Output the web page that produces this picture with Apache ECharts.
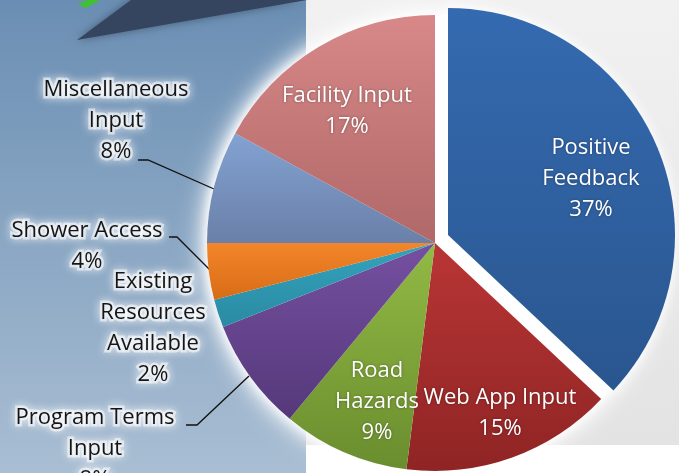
<!DOCTYPE html>
<html>
<head>
<meta charset="utf-8">
<script src="https://cdn.jsdelivr.net/npm/echarts@6/dist/echarts.min.js"></script>
<style>
  html, body { margin: 0; padding: 0; background: #fff; }
  #chart { width: 679px; height: 473px; }
</style>
</head>
<body>
<div id="chart"></div>
<script>
// slices, clockwise from 12 o'clock
const categories = ['Positive Feedback', 'Web App Input', 'Road Hazards', 'Program Terms Input',
  'Existing Resources Available', 'Shower Access', 'Miscellaneous Input', 'Facility Input']
const shares = [37, 15, 9, 8, 2, 4, 8, 17]
const exploded = 'Positive Feedback'

// how each label breaks into lines
const wrapped = {
  'Positive Feedback': 'Positive\nFeedback',
  'Web App Input': 'Web App Input',
  'Road Hazards': 'Road\nHazards',
  'Program Terms Input': 'Program Terms\nInput',
  'Existing Resources Available': 'Existing\nResources\nAvailable',
  'Shower Access': 'Shower Access',
  'Miscellaneous Input': 'Miscellaneous\nInput',
  'Facility Input': 'Facility Input'
}
const outsideLabels = ['Program Terms Input', 'Existing Resources Available', 'Shower Access', 'Miscellaneous Input']

// top / bottom gradient colours
const sliceColors = {
  'Positive Feedback': ['#346AB0', '#2A568F'],
  'Web App Input': ['#B93535', '#8F2424'],
  'Road Hazards': ['#92BA45', '#6A8D2E'],
  'Program Terms Input': ['#7550A0', '#55387A'],
  'Existing Resources Available': ['#34A3BD', '#2A8AA3'],
  'Shower Access': ['#F3862A', '#D86C16'],
  'Miscellaneous Input': ['#83A2D2', '#6A80A8'],
  'Facility Input': ['#D88888', '#B06868']
}

// label anchor positions and leader lines
const labelPos = {
  'Positive Feedback': [591, 179],
  'Web App Input': [500, 413],
  'Road Hazards': [377, 402],
  'Program Terms Input': [95, 449],
  'Existing Resources Available': [153, 328],
  'Shower Access': [87, 246],
  'Miscellaneous Input': [116, 121],
  'Facility Input': [347, 111]
}
const leaderLines = {
  'Miscellaneous Input': [[138, 160], [148, 160], [214, 189]],
  'Shower Access': [[169, 237], [177, 237], [210, 270]],
  'Program Terms Input': [[186, 425], [197, 425], [249, 376]]
}

const pieCenter = [435, 243]
const explodedCenter = [448, 235]
const pieRadius = 228

const chart = echarts.init(document.getElementById('chart'))

const grad = (c) => new echarts.graphic.LinearGradient(0, 0, 0, 1, [
  {offset: 0, color: c[0]}, {offset: 1, color: c[1]}
])

// build data for a layer; only names accepted by `visible` are drawn
const buildData = (visible) => categories.map((name, i) => {
  const show = visible(name)
  const outside = outsideLabels.includes(name)
  return {
    name,
    value: shares[i],
    itemStyle: show
      ? {color: grad(sliceColors[name])}
      : {color: 'rgba(0,0,0,0)'},
    label: {
      show,
      position: outside ? 'outside' : 'inside',
      color: outside ? '#151515' : '#fff',
      textShadowColor: outside ? '#fff' : 'rgba(0,0,0,0.35)',
      textShadowBlur: outside ? 10 : 3,
      textBorderColor: outside ? 'rgba(255,255,255,0.55)' : 'transparent',
      textBorderWidth: outside ? 5 : 0
    },
    labelLine: {show: show && !!leaderLines[name]}
  }
})

const labelLayout = (params) => {
  const name = categories[params.dataIndex]
  const p = labelPos[name]
  if (!p) return {}
  const out = {x: p[0], y: p[1], align: 'center', verticalAlign: 'middle'}
  if (leaderLines[name]) out.labelLinePoints = leaderLines[name]
  return out
}

const commonPie = {
  type: 'pie',
  radius: pieRadius,
  startAngle: 90,
  clockwise: true,
  avoidLabelOverlap: false,
  percentPrecision: 0,
  silent: true,
  label: {
    fontFamily: 'Open Sans',
    fontSize: 22,
    lineHeight: 31,
    formatter: (p) => wrapped[p.name] + '\n' + p.percent + '%'
  },
  labelLine: {lineStyle: {color: '#111', width: 1.3}},
  labelLayout
}

const glowLayer = (blur) => ({
  type: 'pie', silent: true, radius: pieRadius, center: pieCenter, z: 1,
  label: {show: false}, labelLine: {show: false},
  data: [{value: 1, itemStyle: {color: '#fff', shadowBlur: blur, shadowColor: '#fff'}}]
})

chart.setOption({
  animation: false,
  graphic: [
    {type: 'rect', z: -10, shape: {x: 0, y: 0, width: 306, height: 473},
      style: {fill: new echarts.graphic.LinearGradient(0, 0, 0, 1, [
        {offset: 0, color: '#6A8EB3'}, {offset: 1, color: '#A9BED3'}])}},
    {type: 'rect', z: -10, shape: {x: 306, y: 0, width: 373, height: 445},
      style: {fill: new echarts.graphic.LinearGradient(0, 0, 0, 1, [
        {offset: 0, color: '#F1F1F1'}, {offset: 1, color: '#E3E3E3'}])}},
    {type: 'polygon', z: -9, shape: {points: [[77, 40], [131, 0], [307, 0]]},
      style: {fill: '#36455F', shadowBlur: 8, shadowColor: 'rgba(0,0,0,0.35)'}},
    {type: 'polygon', z: -9, shape: {points: [[78, 4], [88, 0], [100, 0], [86, 8]]},
      style: {fill: '#3EC22F'}}
  ],
  series: [
    // white glow underneath the pie
    glowLayer(30),
    glowLayer(20),
    glowLayer(10),
    Object.assign({}, commonPie, {
      center: pieCenter,
      z: 2,
      data: buildData((n) => n !== exploded)
    }),
    // the pulled-out slice
    Object.assign({}, commonPie, {
      center: explodedCenter,
      radius: pieRadius - 1,
      z: 3,
      data: buildData((n) => n === exploded).map((d) => {
        if (d.name === exploded) {
          d.itemStyle.shadowBlur = 12
          d.itemStyle.shadowColor = 'rgba(255,255,255,0.95)'
        }
        return d
      })
    })
  ]
})
</script>
</body>
</html>
